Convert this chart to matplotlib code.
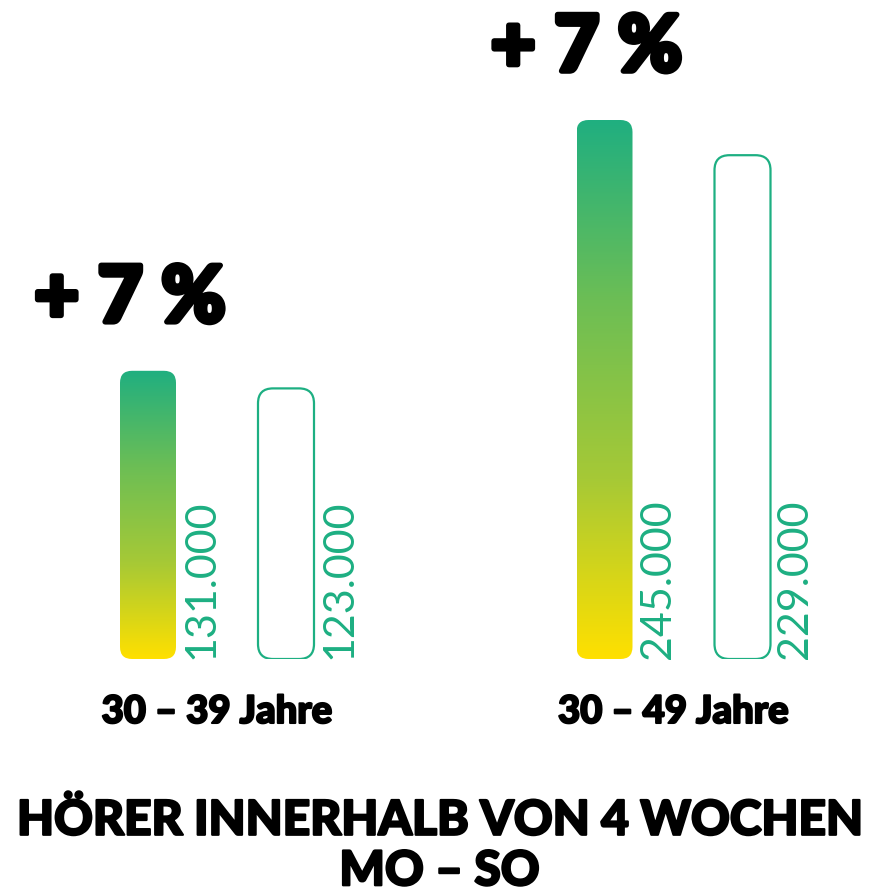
import numpy as np
import matplotlib.pyplot as plt
import matplotlib.patheffects as pe
from matplotlib.patches import FancyBboxPatch
from matplotlib.colors import LinearSegmentedColormap

groups = ["30 – 39 Jahre", "30 – 49 Jahre"]
current = [131, 245]      # in Tausend
previous = [123, 229]
changes = ["+ 7 %", "+ 7 %"]
title = "HÖRER INNERHALB VON 4 WOCHEN\nMO – SO"

green = "#1DAF82"
grad = LinearSegmentedColormap.from_list("g", ["#FFE000", "#A6C936", "#6CBE55", "#20AF80"])

W, H = 879, 894
fig = plt.figure(figsize=(W / 100, H / 100), dpi=100)
# axes: bottom at pixel 659, 2.2 px per thousand
px_per_y = 2.2
ymax = 300
ax = fig.add_axes([0, (H - 659) / H, 1, ymax * px_per_y / H])
x_unit = 456.5
x0 = 217
ax.set_xlim(-x0 / x_unit, (W - x0) / x_unit)
ax.set_ylim(0, ymax)
ax.axis("off")

off = 69 / x_unit
bw = 56 / x_unit
aspect = (1 / px_per_y) / (1 / x_unit)


def rbar(x, h, rad_px, **kw):
    p = FancyBboxPatch((x - bw / 2, 0), bw, h,
                       boxstyle=f"round,pad=0,rounding_size={rad_px / x_unit}",
                       mutation_aspect=aspect, **kw)
    ax.add_patch(p)
    return p


heavy = lambda w: [pe.withStroke(linewidth=w, foreground="black")]
val_font = dict(rotation=90, rotation_mode="anchor", ha="left", va="top",
                color=green, fontsize=31, family="Lato")

for i, g in enumerate(groups):
    # current year: gradient bar
    x = i - off
    p = rbar(x, current[i], 12, facecolor="none", edgecolor="none")
    im = ax.imshow(np.linspace(0, 1, 256).reshape(-1, 1), cmap=grad, origin="lower",
                   extent=(x - bw / 2, x + bw / 2, 0, current[i]), aspect="auto", zorder=2)
    im.set_clip_path(p)
    ax.text(x + bw / 2 + 6 / x_unit, 0, f"{current[i]}.000", **val_font)
    # previous year: outlined bar
    x2 = i + off
    rbar(x2, previous[i], 15, facecolor="white", edgecolor=green, linewidth=1.6, zorder=3)
    ax.text(x2 + bw / 2 + 6 / x_unit, 0, f"{previous[i]}.000", **val_font)
    # change label
    ax.text(i - off - 18 / x_unit, current[i] + 49 / px_per_y, changes[i], ha="center",
            va="baseline", fontsize=56, family="Lato", fontweight="black", color="black",
            path_effects=heavy(4))
    # group label
    ax.text(i, -53 / px_per_y, g, ha="center", va="center", fontsize=27.5,
            family="Lato", fontweight="black", color="black", path_effects=heavy(1.5))

fig.text(0.5, 1 - 846 / H, title, ha="center", va="center", fontsize=34.5,
         family="Lato", fontweight="black", linespacing=1.18, path_effects=heavy(1.6))

fig.savefig("out.png", dpi=100)
